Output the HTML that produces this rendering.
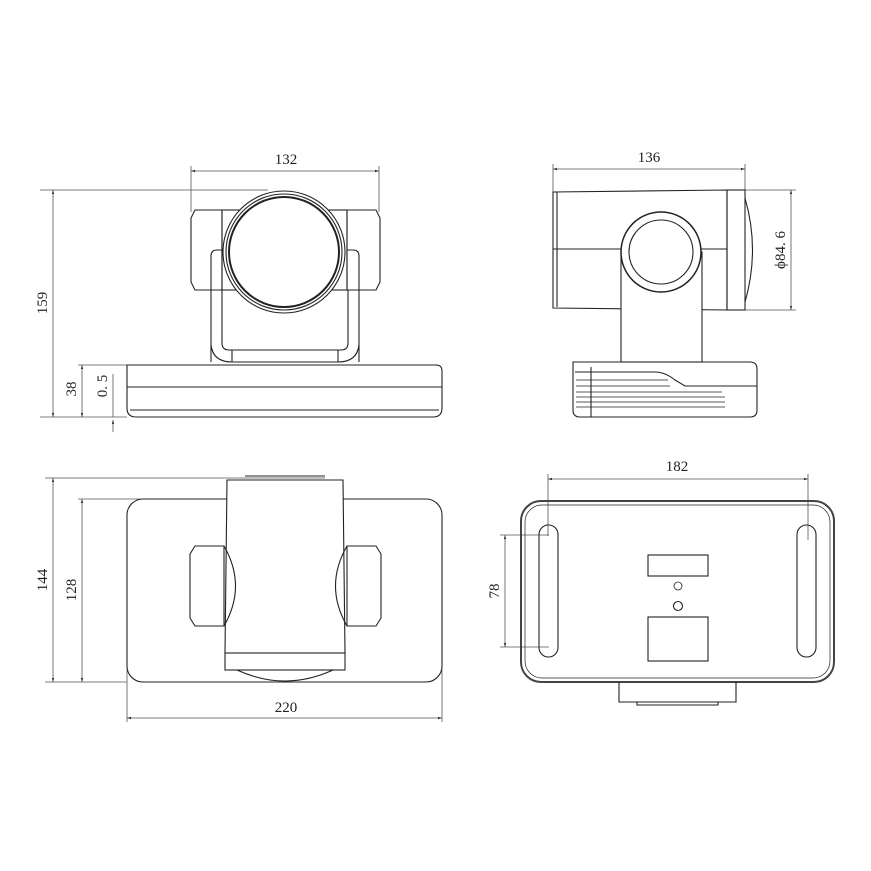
<!DOCTYPE html>
<html><head><meta charset="utf-8"><style>body{margin:0;background:#fff}svg{display:block}text{font-family:"Liberation Serif",serif;font-size:15px;fill:#222}</style></head>
<body>
<svg width="871" height="871" viewBox="0 0 871 871" xmlns="http://www.w3.org/2000/svg">
<defs><marker id="a" viewBox="0 0 10 10" refX="10" refY="5" markerWidth="7" markerHeight="5" orient="auto-start-reverse"><path d="M0,2 L10,5 L0,8 z" fill="#333"/></marker></defs>
<g stroke="#555" stroke-width="0.8" fill="none">
<line x1="191" y1="171" x2="379" y2="171" marker-start="url(#a)" marker-end="url(#a)"/>
<line x1="191" y1="166" x2="191" y2="212"/><line x1="379" y1="166" x2="379" y2="212"/>
<line x1="53" y1="190" x2="53" y2="417" marker-start="url(#a)" marker-end="url(#a)"/>
<line x1="40" y1="190" x2="268" y2="190"/><line x1="40" y1="417" x2="127" y2="417"/>
<line x1="82" y1="365" x2="82" y2="417" marker-start="url(#a)" marker-end="url(#a)"/>
<line x1="78" y1="365" x2="127" y2="365"/>
<line x1="113" y1="374" x2="113" y2="417"/><line x1="113" y1="432" x2="113" y2="420" marker-end="url(#a)"/>
<line x1="553" y1="169" x2="745" y2="169" marker-start="url(#a)" marker-end="url(#a)"/>
<line x1="553" y1="164" x2="553" y2="192"/><line x1="745" y1="164" x2="745" y2="190"/>
<line x1="791" y1="190" x2="791" y2="310" marker-start="url(#a)" marker-end="url(#a)"/>
<line x1="745" y1="190" x2="796" y2="190"/><line x1="745" y1="310" x2="796" y2="310"/>
<line x1="53" y1="478" x2="53" y2="682" marker-start="url(#a)" marker-end="url(#a)"/>
<line x1="45" y1="478" x2="325" y2="478"/><line x1="45" y1="682" x2="127" y2="682"/>
<line x1="82" y1="499" x2="82" y2="682" marker-start="url(#a)" marker-end="url(#a)"/>
<line x1="78" y1="499" x2="140" y2="499"/>
<line x1="127" y1="718" x2="442" y2="718" marker-start="url(#a)" marker-end="url(#a)"/>
<line x1="127" y1="670" x2="127" y2="722"/><line x1="442" y1="670" x2="442" y2="722"/>
<line x1="548" y1="479" x2="808" y2="479" marker-start="url(#a)" marker-end="url(#a)"/>
<line x1="548" y1="474" x2="548" y2="536"/><line x1="808" y1="474" x2="808" y2="540"/>
<line x1="505" y1="535" x2="505" y2="647" marker-start="url(#a)" marker-end="url(#a)"/>
<line x1="500" y1="535" x2="549" y2="535"/><line x1="500" y1="647" x2="549" y2="647"/>
</g>
<g stroke="#222" stroke-width="1.1" fill="none">
<path d="M195,210 H222 V290 H195 L191,282 V218 Z"/><path d="M376,210 H347 V290 H376 L380,282 V218 Z"/>
<rect x="222" y="210" width="125" height="80"/>
<path d="M211,362 V256 Q211,250 217,250 H222 M359,362 V256 Q359,250 353,250 H347"/>
<path d="M222,290 V343 Q222,350 229,350 H341 Q348,350 348,343 V290"/>
<path d="M211,345 Q213,362 232,362 H338 Q357,362 359,345"/>
<line x1="232" y1="350" x2="232" y2="362"/><line x1="338" y1="350" x2="338" y2="362"/>
<circle cx="284" cy="252" r="61" fill="#fff"/><circle cx="284" cy="252" r="58"/>
<circle cx="284" cy="252" r="55" stroke-width="2"/>
<path d="M127,365 H436 Q442,365 442,371 V408 Q442,417 433,417 H136 Q127,417 127,408 Z"/>
<line x1="127" y1="387" x2="442" y2="387"/><line x1="130" y1="410" x2="439" y2="410"/>
<path d="M553,192 L727,190 V310 L553,308 Z"/><line x1="557" y1="192" x2="557" y2="307"/>
<line x1="553" y1="249" x2="727" y2="249"/>
<rect x="727" y="190" width="18" height="120"/>
<path d="M745,198 Q760,250 745,302"/>
<rect x="621" y="252" width="81" height="110" fill="#fff"/>
<circle cx="661" cy="252" r="40" fill="#fff" stroke-width="1.5"/><circle cx="661" cy="252" r="32"/>
<path d="M573,362 H750 Q757,362 757,369 V410 Q757,417 750,417 H580 Q573,417 573,410 Z"/>
<path d="M575,372 H655 Q665,372 675,380 L685,386 H757"/>
<g stroke-width="0.8"><line x1="576" y1="380" x2="668" y2="380"/><line x1="576" y1="386" x2="670" y2="386"/><line x1="576" y1="392" x2="722" y2="392"/><line x1="576" y1="397" x2="725" y2="397"/><line x1="576" y1="402" x2="725" y2="402"/><line x1="576" y1="407" x2="725" y2="407"/></g>
<line x1="591" y1="367" x2="591" y2="417"/>
<rect x="127" y="499" width="315" height="183" rx="16"/>
<path d="M227,480 H343 L345,653 H225 Z" fill="#fff"/>
<rect x="225" y="653" width="120" height="17" fill="#fff"/>
<path d="M237,670 Q285,692 333,670"/>
<path d="M195,546 H224 V626 H195 L190,618 V554 Z" fill="#fff"/><path d="M224,546 Q247,586 224,626"/>
<path d="M376,546 H347 V626 H376 L381,618 V554 Z" fill="#fff"/><path d="M347,546 Q324,586 347,626"/>
<line x1="245" y1="476" x2="325" y2="476"/>
<rect x="521" y="501" width="313" height="181" rx="20" stroke-width="2" stroke="#444"/>
<rect x="525" y="505" width="305" height="173" rx="17" stroke-width="0.7"/>
<rect x="539" y="525" width="19" height="132" rx="9.5"/>
<rect x="797" y="525" width="19" height="132" rx="9.5"/>
<rect x="648" y="555" width="60" height="21"/>
<circle cx="678" cy="586" r="4" stroke-width="0.8"/><circle cx="678" cy="606" r="4.5"/>
<rect x="648" y="617" width="60" height="44"/>
<path d="M619,682 V702 H736 V682"/><path d="M637,702 V705 H718 V702"/>
</g>
<text x="286" y="164" text-anchor="middle">132</text>
<text x="649" y="162" text-anchor="middle">136</text>
<text x="286" y="712" text-anchor="middle">220</text>
<text x="677" y="471" text-anchor="middle">182</text>
<text transform="translate(47,303) rotate(-90)" text-anchor="middle">159</text>
<text transform="translate(76,389) rotate(-90)" text-anchor="middle">38</text>
<text transform="translate(107,386) rotate(-90)" text-anchor="middle">0. 5</text>
<text transform="translate(785,250) rotate(-90)" text-anchor="middle">ϕ84. 6</text>
<text transform="translate(47,580) rotate(-90)" text-anchor="middle">144</text>
<text transform="translate(76,590) rotate(-90)" text-anchor="middle">128</text>
<text transform="translate(499,591) rotate(-90)" text-anchor="middle">78</text>
</svg>
</body></html>
